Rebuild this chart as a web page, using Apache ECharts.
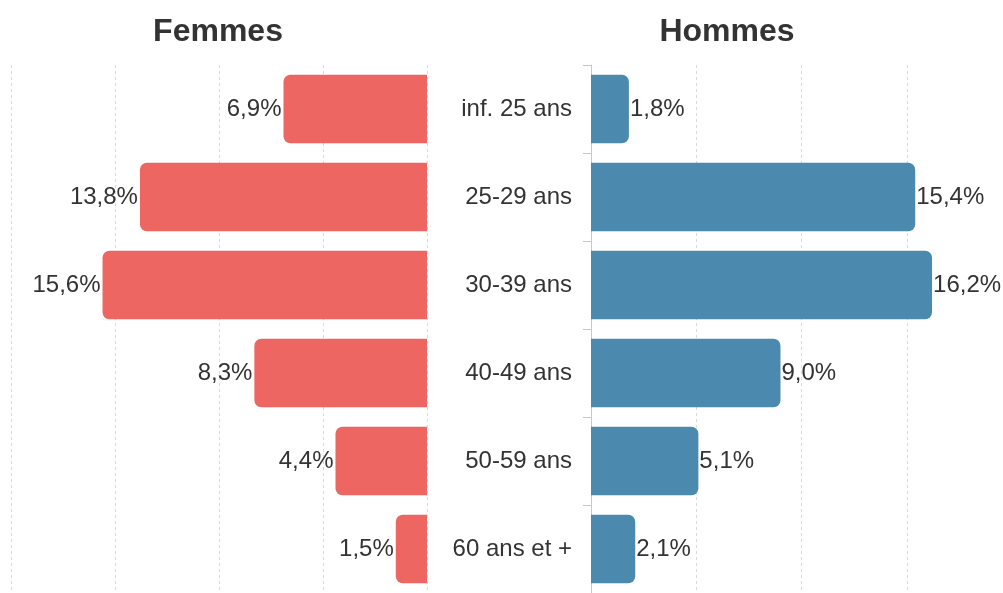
<!DOCTYPE html>
<html>
<head>
<meta charset="utf-8">
<script src="https://cdn.jsdelivr.net/npm/echarts@6/dist/echarts.min.js"></script>
<style>
  html, body { margin: 0; padding: 0; background: #fff; }
  #chart { width: 1003px; height: 593px; }
</style>
</head>
<body>
<div id="chart"></div>
<script>
// tranches d'âge (du haut vers le bas)
const categories = ['inf. 25 ans', '25-29 ans', '30-39 ans', '40-49 ans', '50-59 ans', '60 ans et +'];
const femmes = [6.9, 13.8, 15.6, 8.3, 4.4, 1.5];
const hommes = [1.8, 15.4, 16.2, 9.0, 5.1, 2.1];
const titles = ['Femmes', 'Hommes'];

// l'axe des hommes est coupé au bord droit (env. 19,6 % visibles)
const MAX_F = 20;
const MAX_H = 19.57;

const FONT = 'Liberation Sans, Arial, sans-serif';
const fmt = (p) => p.value.toFixed(1).replace('.', ',') + '%';

const chart = echarts.init(document.getElementById('chart'));

const gridLineStyle = { type: [3, 3], color: '#d9d9d9', width: 1 };

chart.setOption({
  animation: false,
  textStyle: { fontFamily: FONT },
  title: [
    { text: titles[0], left: 213, top: 11, textAlign: 'center',
      textStyle: { fontSize: 32, fontWeight: 'bold', color: '#333', fontFamily: FONT } },
    { text: titles[1], left: 722, top: 11, textAlign: 'center',
      textStyle: { fontSize: 32, fontWeight: 'bold', color: '#333', fontFamily: FONT } }
  ],
  grid: [
    { left: 11, top: 65, width: 416, height: 530 },
    { left: 591, top: 65, right: 0, height: 530 }
  ],
  xAxis: [
    { gridIndex: 0, type: 'value', inverse: true, min: 0, max: MAX_F, interval: 5,
      axisLine: { show: false }, axisTick: { show: false }, axisLabel: { show: false },
      splitLine: { show: true, lineStyle: gridLineStyle } },
    { gridIndex: 1, type: 'value', min: 0, max: MAX_H, interval: 5,
      axisLine: { show: false }, axisTick: { show: false }, axisLabel: { show: false },
      splitLine: { show: true, showMaxLine: false, lineStyle: gridLineStyle } }
  ],
  yAxis: [
    { gridIndex: 0, type: 'category', data: categories, inverse: true,
      axisLine: { show: false }, axisTick: { show: false }, axisLabel: { show: false } },
    { gridIndex: 1, type: 'category', data: categories, inverse: true,
      axisLine: { show: true, lineStyle: { color: '#c8c8c8' } },
      axisTick: { show: true, length: 8, lineStyle: { color: '#c8c8c8' } },
      axisLabel: { margin: 19, fontSize: 24, color: '#333', fontFamily: FONT } }
  ],
  series: [
    { name: titles[0], type: 'bar', xAxisIndex: 0, yAxisIndex: 0, data: femmes,
      barCategoryGap: '22%',
      itemStyle: { color: '#ee6662', borderRadius: [7, 0, 0, 7] },
      label: { show: true, position: 'left', distance: 2, formatter: fmt,
        fontSize: 24, color: '#333', fontFamily: FONT } },
    { name: titles[1], type: 'bar', xAxisIndex: 1, yAxisIndex: 1, data: hommes,
      barCategoryGap: '22%',
      itemStyle: { color: '#4b89ae', borderRadius: [0, 7, 7, 0] },
      label: { show: true, position: 'right', distance: 1, formatter: fmt,
        fontSize: 24, color: '#333', fontFamily: FONT } }
  ]
});
</script>
</body>
</html>
